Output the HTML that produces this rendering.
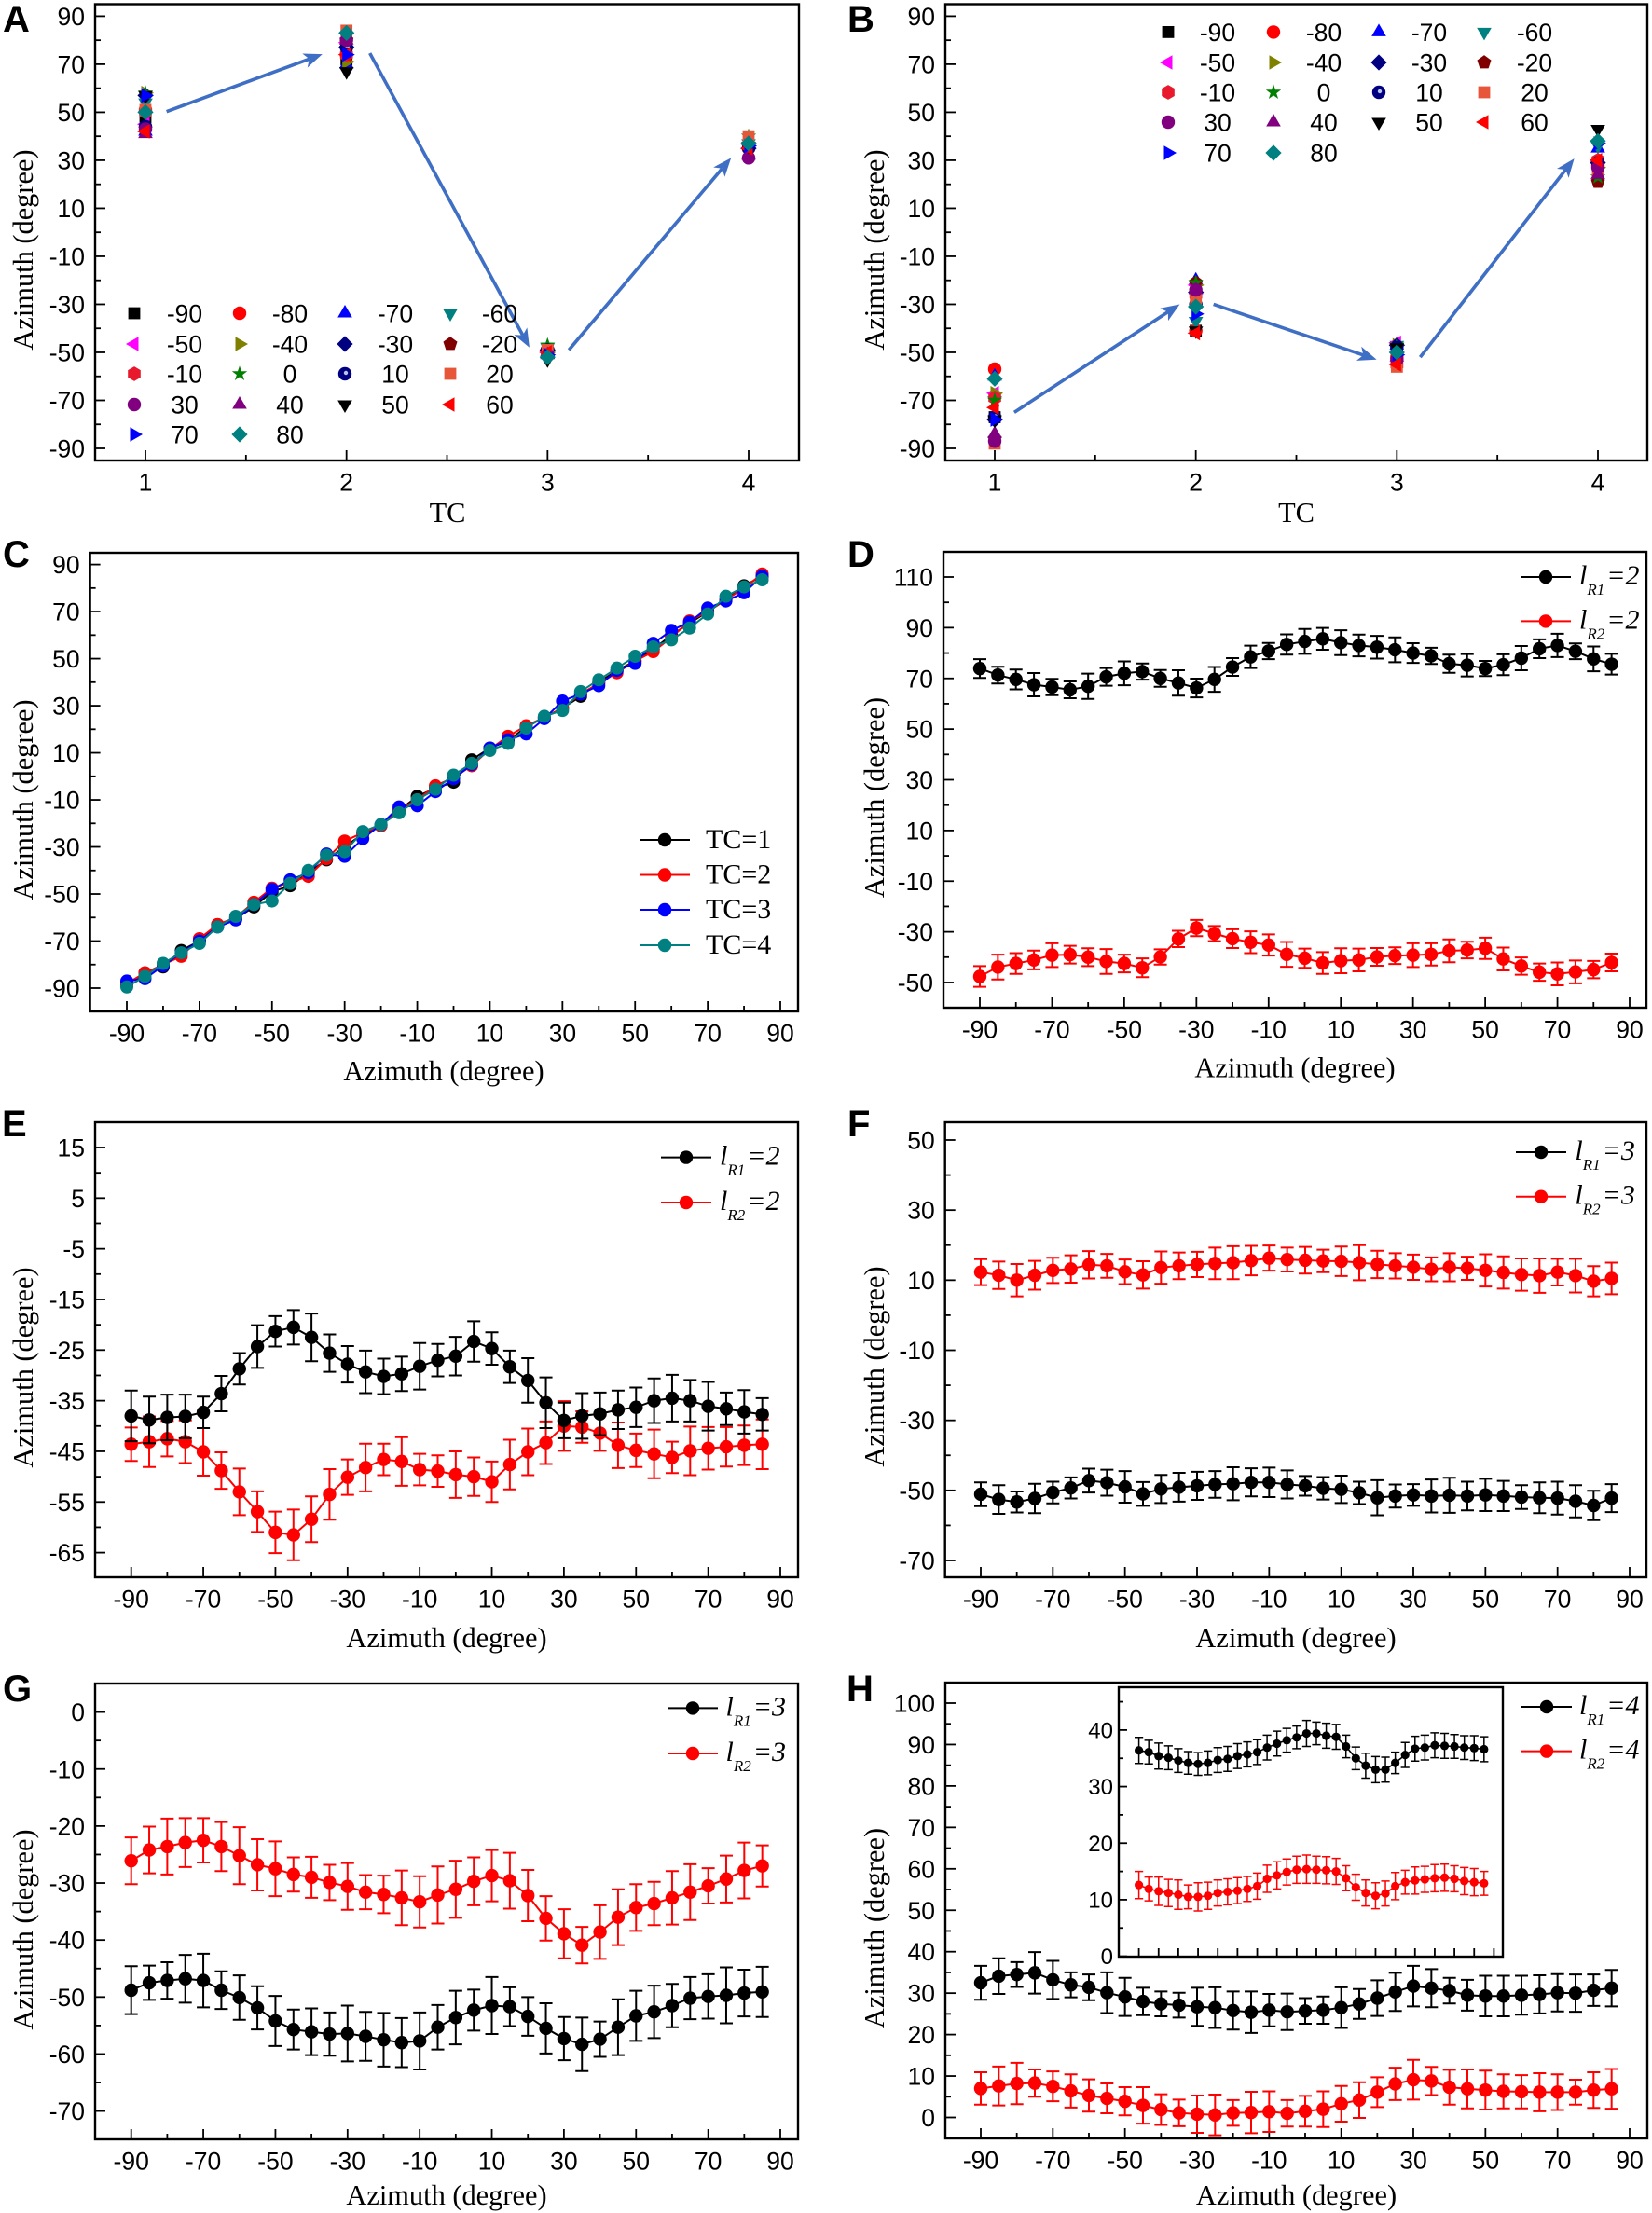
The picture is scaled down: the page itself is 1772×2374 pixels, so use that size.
<!DOCTYPE html>
<html lang="en">
<head>
<meta charset="utf-8">
<title>Azimuth measurement panels</title>
<style>
html,body{margin:0;padding:0;background:#fff;}
#figure{display:block;width:1772px;height:2374px;background:#fff;}
text{font-family:"Liberation Sans",Arial,sans-serif;fill:#000;}
.serif{font-family:"Liberation Serif","Times New Roman",serif;}
</style>
</head>
<body>
<svg id="figure" xmlns="http://www.w3.org/2000/svg" width="1772" height="2374" viewBox="0 0 1772 2374"></svg>
<script>
// ---------- shared categories and tick labels ----------
const azimuth = [-90,-85,-80,-75,-70,-65,-60,-55,-50,-45,-40,-35,-30,-25,-20,-15,-10,-5,0,5,10,15,20,25,30,35,40,45,50,55,60,65,70,75,80,85];
const azimuthMajorTicks = [-90,-70,-50,-30,-10,10,30,50,70,90];
const azimuthMinorTicks = [-80,-60,-40,-20,0,20,40,60,80];
const tcTicks = [1,2,3,4];
const tcMinorTicks = [1.5,2.5,3.5];
const ticksY90 = [90,70,50,30,10,-10,-30,-50,-70,-90];
const ticksY90Minor = [80,60,40,20,0,-20,-40,-60,-80];
const ticksYD = [110,90,70,50,30,10,-10,-30,-50];
const ticksYDMinor = [100,80,60,40,20,0,-20,-40];
const ticksYE = [15,5,-5,-15,-25,-35,-45,-55,-65];
const ticksYEMinor = [10,0,-10,-20,-30,-40,-50,-60];
const ticksYF = [50,30,10,-10,-30,-50,-70];
const ticksYFMinor = [40,20,0,-20,-40,-60];
const ticksYG = [0,-10,-20,-30,-40,-50,-60,-70];
const ticksYGMinor = [-5,-15,-25,-35,-45,-55,-65];
const ticksYH = [100,90,80,70,60,50,40,30,20,10,0];
const ticksYHMinor = [95,85,75,65,55,45,35,25,15,5];
const insetTicksY = [40,30,20,10,0];
const insetTicksYMinor = [45,35,25,15,5];
const insetTicksX = [-90,-80,-70,-60,-50,-40,-30,-20,-10,0,10,20,30,40,50,60,70,80,90];

// ---------- panels A and B: input azimuth series at each TC ----------
const inputLabels = [-90,-80,-70,-60,-50,-40,-30,-20,-10,0,10,20,30,40,50,60,70,80];
const inputShapes = ['square','circle','triUp','triDown','triLeft','triRight','diamond','pentagon','hexagon','star','sphere','square','circle','triUp','triDown','triLeft','triRight','diamond'];
const inputColors = ['#000000','#ff0000','#0000ff','#008080','#ff00ff','#808000','#000080','#800000','#e8192c','#008000','#000080','#e8563a','#800080','#800080','#000000','#ff0000','#0000ff','#008080'];

const panelA_TC1 = [48,51,42,54,45,58,57,43,50,58,44,51,43,41,57,42,57,50];
const panelA_TC2 = [72,74,70,76,79,71,77,80,74,82,77,84,80,80,67,74,74,83];
const panelA_TC3 = [-49,-50,-51,-48,-50,-50,-49,-49,-50,-47,-49,-49,-51,-51,-53,-50,-51,-52];
const panelA_TC4 = [36,35,38,37,35,37,35,36,36,40,35,40,31,32,36,35,36,37];

const panelB_TC1 = [-77,-57,-60,-70,-67,-67,-78,-86,-69,-70,-77,-88,-87,-84,-78,-73,-78,-61];
const panelB_TC2 = [-41,-41,-20,-37,-22,-22,-25,-21,-26,-21,-30,-28,-24,-24,-41,-42,-34,-31];
const panelB_TC3 = [-50,-52,-47,-47,-46,-47,-47,-48,-55,-47,-48,-56,-53,-52,-48,-55,-51,-50];
const panelB_TC4 = [29,28,35,36,30,27,29,21,30,23,29,25,27,24,43,30,37,38];

// ---------- panel C: output vs input azimuth ----------
const panelC_TC1 = [-88.5,-83.5,-81,-74,-70,-63,-60.5,-55.5,-49,-46.5,-41,-35.5,-30,-24.5,-21,-14.5,-8.5,-5,-2.5,7,12,15,21,25,29,34,40,45,49,54,60,65,70,75,81,85];
const panelC_TC2 = [-88,-83.5,-80,-76.5,-69,-63,-60,-53.5,-47.5,-45,-42.5,-35,-27.5,-24,-21,-14,-10,-4,-0.5,4.5,11.5,17,21.5,25,29,35,39.5,44,49,53,59,66,70,75,80,86];
const panelC_TC3 = [-87,-86,-80.5,-75,-70,-64,-61,-54.5,-48,-44,-41,-33,-34,-26.5,-20.5,-13,-12.5,-6.5,-1,5,12,15.5,18,24.5,32,35,38.5,45,48,56.5,62,65.5,71.5,74.5,78,85];
const panelC_TC4 = [-89.5,-85,-79.5,-75,-71,-64,-59.5,-54.5,-53,-45.5,-40,-33.5,-32,-23.5,-20.5,-15.5,-10,-5.5,0.5,5.5,11,14,20.5,25.5,28,36,41,46,51,55,58,63,69,76.5,80.5,83.5];

// ---------- panel D ----------
const panelD_R1 = [73.9,71.3,69.6,67.5,66.6,65.5,66.9,70.6,72,72.7,70,68.2,66.2,69.6,74.5,78.5,80.8,83.4,84.6,85.6,84.1,83,82.3,81.3,80,78.9,75.8,75.2,73.9,75.4,78,81.7,83,80.7,77.7,75.6];
const panelD_R1_err = [3.7,3.3,3.9,4.6,3.2,3.3,5,3.5,4.7,3.2,3.3,5,3.7,4.9,3.5,4.4,3.2,4,4.9,4.3,4.9,4.3,4.5,4.9,3.9,3.2,3.6,4.4,3,4.1,4.8,3.7,4.6,3.1,4.9,4.1];
const panelD_R2 = [-47.6,-43.9,-42.5,-41.1,-39.2,-39,-40,-41.7,-42.5,-44.2,-39.9,-32.8,-28.5,-30.7,-32.7,-34.1,-35.2,-38.9,-40.4,-42.3,-41.4,-41.1,-39.9,-39.4,-39.2,-38.9,-37.5,-37.2,-36.5,-40.7,-43.5,-45.9,-46.6,-45.8,-44.9,-42.1];
const panelD_R2_err = [4.1,4.9,4.1,3.7,4.7,3.5,3.5,4.9,3.5,3.7,3,3.2,3.2,3,3.7,4.3,4.2,4.9,3.8,4.3,4.9,4.5,3.5,3.3,4.7,4.4,4.5,3.3,4.2,4.5,3.4,3.4,4.5,4.5,3.4,3.5];

// ---------- panel E ----------
const panelE_R1 = [-38,-38.8,-38.3,-38.1,-37.3,-33.6,-28.7,-24.3,-21.3,-20.5,-22.5,-25.6,-27.8,-29.3,-30.2,-29.7,-28.2,-27,-26.2,-23.3,-24.7,-28.3,-31,-35.4,-38.9,-38,-37.6,-36.8,-36.3,-35,-34.5,-35,-36.1,-36.6,-37.2,-37.7];
const panelE_R1_err = [5,4.6,4.5,4.3,3.1,3.5,3.1,4.2,3,3.4,4.7,3.7,3.6,4.2,3.5,3.4,4.6,3.2,3.8,4,3.2,3.2,4.4,5,3.5,4.5,4.2,3.8,3.9,4.4,4.6,4.1,4.8,3.2,4.3,3.2];
const panelE_R2 = [-43.6,-43.1,-42.5,-43.1,-45.1,-48.8,-53,-56.9,-61,-61.5,-58.4,-53.5,-50.1,-48.2,-46.6,-47,-48.6,-48.9,-49.6,-50,-51,-47.6,-45.1,-43.3,-40,-40.2,-41.4,-43.8,-44.8,-45.5,-46.2,-44.9,-44.4,-44.1,-43.8,-43.6];
const panelE_R2_err = [3.3,5,3.5,4.2,4.7,3.6,4.6,4,4.1,5,4.5,5,3.5,4.7,3.1,4.8,3.1,3.1,4.6,3.8,4,4.9,4.6,4.2,4.9,3.1,3.5,4.5,3.3,4.8,3.1,4.8,4.2,3.9,3.9,4.9];

// ---------- panel F ----------
const panelF_R1 = [-51.1,-52.6,-53.3,-52.3,-50.6,-49.3,-47.2,-47.8,-49,-51,-49.6,-49.1,-48.7,-48.3,-48.1,-47.7,-47.7,-48.3,-48.7,-49.4,-49.7,-50.7,-52.1,-51.6,-51.3,-51.6,-51.4,-51.6,-51.3,-51.6,-51.9,-52.1,-52.2,-53.1,-54.3,-52.2];
const panelF_R1_err = [3.4,4.1,3,4.2,3.1,3,3.4,3.7,4.5,3.4,4,4.1,4,3.8,4.7,4,4.2,4,2.8,3.2,3.9,3.2,5,3.3,3.1,4.7,5,4.1,4.6,4.3,3.4,4.4,4.7,4.6,4.2,4];
const panelF_R2 = [12.3,11.4,10,11.4,12.8,13.2,14.4,14.1,12.4,11.5,13.6,14.1,14.5,14.8,15,15.6,16.3,15.9,15.7,15.5,15.4,15,14.5,14.1,13.7,13.1,13.7,13.4,12.8,12.2,11.6,11.3,12.3,11.3,9.7,10.5];
const panelF_R2_err = [3.7,3.9,4.6,4.1,3.6,3.9,3.9,3.4,3.5,3.9,4.6,3.8,3.6,4.5,4.7,4.2,3.6,3.4,3.8,3.2,4.2,5,3.9,3.6,3.6,3.4,4,3.3,4.6,4.6,4.6,4.9,3.8,4.8,4.3,4.5];

// ---------- panel G ----------
const panelG_R1 = [-48.8,-47.5,-47.1,-46.8,-47.1,-48.8,-50.1,-51.9,-54.2,-55.7,-56.1,-56.5,-56.4,-56.9,-57.5,-58,-57.7,-55.3,-53.6,-52.3,-51.5,-51.7,-53.4,-55.5,-57.3,-58.3,-57.4,-55.3,-53.3,-52.6,-51.5,-50.2,-49.9,-49.7,-49.3,-49.1];
const panelG_R1_err = [4.2,3,3.2,4.2,4.7,3.3,3.9,3.8,4.4,3.5,4.1,3.8,4.9,4.3,4.7,4.3,5,3.9,4.7,3.6,5,3.4,3.4,4.4,3.8,4.7,3.1,4.9,4.4,4.6,3.8,3.7,3.9,4.9,4.1,4.4];
const panelG_R2 = [-26.1,-24.2,-23.6,-22.9,-22.5,-23.6,-25.2,-26.8,-27.5,-28.5,-29,-29.9,-30.6,-31.6,-32,-32.6,-33.3,-32.1,-31.1,-29.7,-28.7,-29.6,-32.2,-36.2,-38.9,-40.9,-38.6,-36,-34.3,-33.6,-32.6,-31.6,-30.5,-29.3,-27.8,-27];
const panelG_R2_err = [4.1,4.1,4.9,4.3,3.9,4.3,5,4.5,4.8,3,3.6,3.1,4.1,3,3.3,4.8,4.5,5,5,4.2,4.5,4.9,4.5,3.9,4.3,3.2,4.7,4.9,4.1,3.8,4.7,4.9,3.1,4.1,4.9,3.6];

// ---------- panel H ----------
const panelH_R1 = [32.5,34.1,34.5,34.9,33.2,32,31.4,30.1,29.1,28,27.4,27.1,26.7,26.5,25.8,25.4,25.9,25.5,25.7,25.9,26.5,27.4,28.8,30.3,31.7,31.2,30.6,29.5,29.3,29.3,29.5,29.7,30.1,30,30.7,31.2];
const panelH_R1_err = [4.1,4.3,3,5,4.6,3,3.1,4.9,4.6,3.3,3,3,4.6,4.9,4.6,5,3.9,4.4,3.1,3.3,4.9,3.6,4.3,4.6,4.9,4.6,3.1,3.7,4.9,4.9,4.7,4.6,4.5,4.5,3.8,4.4];
const panelH_R2 = [7,7.6,8.2,8.3,7.5,6.4,5.3,4.6,3.9,2.9,1.9,1.1,0.8,0.6,1.1,1.2,1.4,1,1.5,2,3.3,4.2,6.1,8.1,9.1,8.8,7.3,6.9,6.6,6.3,6.2,6.1,6.1,6.1,6.6,6.9];
const panelH_R2_err = [3.9,4.7,5,3.3,3.6,4,3.9,3.6,3.4,4.4,3.7,3.2,4.5,4.9,3.1,5,4.9,3.2,3.7,4.3,4.3,4.3,3.6,3.9,4.8,3.4,4.2,4.7,4.7,4.1,4,4.6,4.3,3,4.3,4.8];

// ---------- panel H inset ----------
const insetH_R1 = [36.4,36.1,35.4,35.1,34.6,34.2,34,34.2,34.7,34.9,35.4,35.7,36.1,36.9,37.6,38.2,38.7,39.4,39.4,39,38.8,37.1,35,33.7,33,33,34.2,35.6,36.7,36.9,37.3,37.2,37.1,36.9,36.8,36.6];
const insetH_R1_err = [2.3,2.1,2.3,2.1,2.1,2,2,2.1,2.2,2.2,2.2,2.2,2.2,2.2,2.2,2.1,2,2.3,2,2.2,2.2,2,2,2.2,2.3,2.2,1.9,2.2,2.2,2.2,2.2,2.2,2.1,2.1,2.2,2.2];
const insetH_R2 = [12.6,11.9,11.5,11.2,10.9,10.5,10.5,10.7,11.2,11.4,11.6,11.9,12.4,13.7,14.3,14.9,15.3,15.4,15.3,15.2,15,13.8,12.2,11.2,10.7,11.1,12.4,13.1,13.4,13.6,13.8,13.9,13.7,13.3,13.1,12.9];
const insetH_R2_err = [2.4,2.1,2.5,2.4,2.6,2.1,2.5,2.4,2.3,2.3,2.3,2.2,2.3,2.4,2.4,2.3,2.4,2.5,2.4,2.4,2.3,2.2,2.3,2.3,2.3,2.2,2.4,2.1,2.4,2.3,2.4,2.4,2.3,2.4,2.4,2.1];

// ---------- helpers ----------
const NS = 'http://www.w3.org/2000/svg';
const root = document.getElementById('figure');
const BLUE = '#3f6fc4';

function make(tag, name, attrs, parent) {
  const el = document.createElementNS(NS, tag);
  
  
  for (const k in attrs) el.setAttribute(k, attrs[k]);
  parent.appendChild(el);
  return el;
}
function label(name, str, attrs, parent) {
  const t = make('text', name, attrs, parent);
  t.textContent = str;
  return t;
}
function linear(d0, d1, r0, r1) {
  return v => r0 + (v - d0) * (r1 - r0) / (d1 - d0);
}
function polyPoints(cx, cy, r, n, rot) {
  const out = [];
  for (let i = 0; i < n; i++) {
    const a = rot + i * 2 * Math.PI / n;
    out.push((cx + r * Math.cos(a)).toFixed(1) + ',' + (cy + r * Math.sin(a)).toFixed(1));
  }
  return out.join(' ');
}
function starPoints(cx, cy, R, r) {
  const out = [];
  for (let i = 0; i < 10; i++) {
    const a = -Math.PI / 2 + i * Math.PI / 5;
    const q = i % 2 ? r : R;
    out.push((cx + q * Math.cos(a)).toFixed(1) + ',' + (cy + q * Math.sin(a)).toFixed(1));
  }
  return out.join(' ');
}
function drawMarker(shape, color, cx, cy, name, parent) {
  const s = 7.2;
  if (shape === 'square') return make('rect', name, {x: cx - 6.4, y: cy - 6.4, width: 12.8, height: 12.8, fill: color}, parent);
  if (shape === 'circle') return make('circle', name, {cx: cx, cy: cy, r: s, fill: color}, parent);
  if (shape === 'sphere') {
    const g = make('g', name, {}, parent);
    make('circle', 'sphere-body', {cx: cx, cy: cy, r: s, fill: color}, g);
    make('circle', 'sphere-highlight', {cx: cx + 1, cy: cy - 1, r: 2.2, fill: '#b8c4e8'}, g);
    return g;
  }
  if (shape === 'star') return make('polygon', name, {points: starPoints(cx, cy, 8.6, 3.4), fill: color}, parent);
  if (shape === 'diamond') return make('polygon', name, {points: polyPoints(cx, cy, 8.6, 4, 0), fill: color}, parent);
  if (shape === 'pentagon') return make('polygon', name, {points: polyPoints(cx, cy, 7.9, 5, -Math.PI / 2), fill: color}, parent);
  if (shape === 'hexagon') return make('polygon', name, {points: polyPoints(cx, cy, 7.9, 6, -Math.PI / 2), fill: color}, parent);
  const rot = {triUp: -Math.PI / 2, triDown: Math.PI / 2, triLeft: Math.PI, triRight: 0}[shape];
  return make('polygon', name, {points: polyPoints(cx, cy, 9, 3, rot), fill: color}, parent);
}
function drawAxes(p, g) {
  const x = linear(p.x[0], p.x[1], p.x[2], p.x[3]);
  const y = linear(p.y[0], p.y[1], p.y[2], p.y[3]);
  const b = p.box;
  const major = p.major || 11, minor = p.minor || 6, fs = p.tickFont || 26.5;
  make('rect', 'plot-frame', {x: b[0], y: b[1], width: b[2] - b[0], height: b[3] - b[1], fill: p.inset ? '#fff' : 'none', stroke: '#000', 'stroke-width': 2.4}, g);
  const tick = (x1, y1, x2, y2, name) => make('line', name, {x1: x1, y1: y1, x2: x2, y2: y2, stroke: '#000', 'stroke-width': 1.8}, g);
  p.yMajor.forEach(v => {
    tick(b[0], y(v), b[0] + major, y(v), 'y-tick');
    label('y-tick-label', String(v), {x: b[0] - (p.inset ? 6 : 11), y: y(v) + fs * 0.36, 'text-anchor': 'end', 'font-size': fs}, g);
  });
  p.yMinor.forEach(v => tick(b[0], y(v), b[0] + minor, y(v), 'y-minor-tick'));
  p.xMajor.forEach(v => {
    tick(x(v), b[3], x(v), b[3] - major, 'x-tick');
    if (!p.inset) label('x-tick-label', String(v), {x: x(v), y: b[3] + 32.5, 'text-anchor': 'middle', 'font-size': fs}, g);
  });
  p.xMinor.forEach(v => tick(x(v), b[3], x(v), b[3] - minor, 'x-minor-tick'));
  if (p.xTitle) label('x-axis-title', p.xTitle[0], {x: p.xTitle[1], y: p.xTitle[2], 'text-anchor': 'middle', 'font-size': 30.4, class: 'serif'}, g);
  if (p.yTitle) label('y-axis-title', 'Azimuth (degree)', {x: 0, y: 0, transform: 'translate(' + p.yTitle[0] + ' ' + p.yTitle[1] + ') rotate(-90)', 'text-anchor': 'middle', 'font-size': 30.4, class: 'serif'}, g);
  return {x: x, y: y};
}
function drawSeries(scale, xs, ys, errs, color, name, g, o) {
  const s = make('g', name, {}, g);
  const r = o.r, cap = o.cap;
  const pts = xs.map((v, i) => scale.x(v).toFixed(1) + ',' + scale.y(ys[i]).toFixed(1)).join(' ');
  make('polyline', name + '-line', {points: pts, fill: 'none', stroke: color, 'stroke-width': o.lw}, s);
  xs.forEach((v, i) => {
    const px = scale.x(v), py = scale.y(ys[i]);
    if (errs) {
      const top = scale.y(ys[i] + errs[i]), bot = scale.y(ys[i] - errs[i]);
      const path = 'M' + px + ' ' + top + 'V' + bot + 'M' + (px - cap) + ' ' + top + 'H' + (px + cap) + 'M' + (px - cap) + ' ' + bot + 'H' + (px + cap);
      make('path', name + '-error-bar', {d: path, fill: 'none', stroke: color, 'stroke-width': o.ew}, s);
    }
    make('circle', name + '-point', {cx: px, cy: py, r: r, fill: color}, s);
  });
}
function drawArrow(scale, a, g) {
  const x1 = scale.x(a[0]), y1 = scale.y(a[1]), x2 = scale.x(a[2]), y2 = scale.y(a[3]);
  const len = Math.hypot(x2 - x1, y2 - y1), ux = (x2 - x1) / len, uy = (y2 - y1) / len;
  const nx = -uy, ny = ux, L = 20, W = 8, N = 15;
  make('line', 'trend-arrow-shaft', {x1: x1, y1: y1, x2: x2 - ux * N, y2: y2 - uy * N, stroke: BLUE, 'stroke-width': 3.6}, g);
  const pts = [[x2, y2], [x2 - ux * L + nx * W, y2 - uy * L + ny * W], [x2 - ux * N, y2 - uy * N], [x2 - ux * L - nx * W, y2 - uy * L - ny * W]];
  make('polygon', 'trend-arrow-head', {points: pts.map(q => q[0].toFixed(1) + ',' + q[1].toFixed(1)).join(' '), fill: BLUE}, g);
}
function panelLetter(str, x, y) {
  label('panel-label-' + str.toLowerCase(), str, {x: x, y: y, 'font-size': 40, 'font-weight': 'bold'}, root);
}
function beamLegend(g, o, ell, color, row, idx) {
  const e = make('g', 'legend-entry-r' + idx, {}, g);
  make('line', 'legend-line', {x1: o.x0, x2: o.x1, y1: row, y2: row, stroke: color, 'stroke-width': 2}, e);
  make('circle', 'legend-marker', {cx: (o.x0 + o.x1) / 2, cy: row, r: 7.2, fill: color}, e);
  const t = make('text', 'legend-label', {x: o.tx, y: row + 8, class: 'serif', 'font-size': 30, 'font-style': 'italic'}, e);
  const a = document.createElementNS(NS, 'tspan');
  a.textContent = 'l';
  t.appendChild(a);
  const b = document.createElementNS(NS, 'tspan');
  b.setAttribute('dy', '11');
  b.setAttribute('font-size', '17');
  b.textContent = 'R' + idx;
  t.appendChild(b);
  const c = document.createElementNS(NS, 'tspan');
  c.setAttribute('dy', '-11');
  c.setAttribute('dx', '2');
  c.textContent = '=' + ell;
  t.appendChild(c);
}

// ---------- panels A and B ----------
const arrowsA = [[1.105,50.3,1.88,74.2],[2.116,74.6,2.91,-48],[3.106,-49,3.913,31]];
const arrowsB = [[1.097,-75,1.92,-30],[2.088,-30,2.899,-53],[3.116,-52,3.882,30.7]];

function scatterPanel(id, p, cols, arrows, legendMarkerX, legendTextX, legendRows) {
  const g = make('g', 'panel-' + id, {}, root);
  const sc = drawAxes(p, g);
  inputLabels.forEach((lab, s) => {
    const sg = make('g', 'series-input-' + lab, {}, g);
    cols.forEach((col, i) => {
      drawMarker(inputShapes[s], inputColors[s], sc.x(tcTicks[i]), sc.y(col[s]), 'point-input-' + lab + '-tc' + tcTicks[i], sg);
    });
  });
  arrows.forEach(a => drawArrow(sc, a, g));
  const lg = make('g', 'legend', {}, g);
  inputLabels.forEach((lab, s) => {
    const row = Math.floor(s / 4), col = s % 4;
    const e = make('g', 'legend-entry-' + lab, {}, lg);
    drawMarker(inputShapes[s], inputColors[s], legendMarkerX[col], legendRows[row], 'legend-marker', e);
    label('legend-label', String(lab), {x: legendTextX[col], y: legendRows[row] + 9.5, 'text-anchor': 'middle', 'font-size': 26.5}, e);
  });
}
scatterPanel('a', {
  box: [102, 4.5, 857, 494], x: [1, 4, 156, 803], y: [-90, 90, 481, 17.4],
  xMajor: tcTicks, xMinor: tcMinorTicks, yMajor: ticksY90, yMinor: ticksY90Minor,
  xTitle: ['TC', 480, 560], yTitle: [35, 268]
}, [panelA_TC1, panelA_TC2, panelA_TC3, panelA_TC4], arrowsA, [144, 257, 370, 483], [198, 311, 424, 536], [336, 369, 401, 434, 466]);

scatterPanel('b', {
  box: [1014, 4.5, 1767, 494], x: [1, 4, 1067, 1714], y: [-90, 90, 481, 17.4],
  xMajor: tcTicks, xMinor: tcMinorTicks, yMajor: ticksY90, yMinor: ticksY90Minor,
  xTitle: ['TC', 1390.5, 560], yTitle: [948, 268]
}, [panelB_TC1, panelB_TC2, panelB_TC3, panelB_TC4], arrowsB, [1253, 1366, 1479, 1592], [1306, 1420, 1533, 1646], [34.4, 67, 99, 131, 164]);

// ---------- panel C ----------
(function () {
  const g = make('g', 'panel-c', {}, root);
  const sc = drawAxes({
    box: [96.6, 593, 856, 1085], x: [-90, 90, 136, 837], y: [-90, 90, 1060, 605.6],
    xMajor: azimuthMajorTicks, xMinor: azimuthMinorTicks, yMajor: ticksY90, yMinor: ticksY90Minor,
    xTitle: ['Azimuth (degree)', 476, 1159], yTitle: [35, 858]
  }, g);
  const all = [panelC_TC1, panelC_TC2, panelC_TC3, panelC_TC4];
  const colors = ['#000000', '#ff0000', '#0000ff', '#008080'];
  const rows = [901, 938.5, 976, 1014];
  all.forEach((ys, i) => {
    drawSeries(sc, azimuth, ys, null, colors[i], 'series-tc' + (i + 1), g, {r: 7, cap: 0, lw: 2, ew: 0});
  });
  all.forEach((ys, i) => {
    const e = make('g', 'legend-entry-tc' + (i + 1), {}, g);
    make('line', 'legend-line', {x1: 686, x2: 740, y1: rows[i], y2: rows[i], stroke: colors[i], 'stroke-width': 2}, e);
    make('circle', 'legend-marker', {cx: 713, cy: rows[i], r: 7.2, fill: colors[i]}, e);
    label('legend-label', 'TC=' + (i + 1), {x: 757, y: rows[i] + 9, class: 'serif', 'font-size': 30}, e);
  });
})();

// ---------- panels D to H ----------
function errPanel(id, p, ell, r1, r1e, r2, r2e, leg) {
  const g = make('g', 'panel-' + id, {}, root);
  p.xMajor = azimuthMajorTicks;
  p.xMinor = azimuthMinorTicks;
  const sc = drawAxes(p, g);
  const o = {r: 7.2, cap: 7, lw: 2, ew: 2};
  drawSeries(sc, azimuth, r2, r2e, '#ff0000', 'series-r2', g, o);
  drawSeries(sc, azimuth, r1, r1e, '#000000', 'series-r1', g, o);
  const lg = make('g', 'legend', {}, g);
  beamLegend(lg, leg, ell, '#000000', leg.rows[0], 1);
  beamLegend(lg, leg, ell, '#ff0000', leg.rows[1], 2);
}
errPanel('d', {
  box: [1012, 592, 1766, 1081], x: [-90, 90, 1051, 1748], y: [-50, 110, 1054, 619],
  yMajor: ticksYD, yMinor: ticksYDMinor, xTitle: ['Azimuth (degree)', 1389, 1155.5], yTitle: [948, 855.5]
}, 2, panelD_R1, panelD_R1_err, panelD_R2, panelD_R2_err, {x0: 1631, x1: 1685, tx: 1694, rows: [619, 666.4]});

errPanel('e', {
  box: [102, 1204, 856, 1692], x: [-90, 90, 140.7, 837], y: [-65, 15, 1665.6, 1231],
  yMajor: ticksYE, yMinor: ticksYEMinor, xTitle: ['Azimuth (degree)', 479, 1767], yTitle: [35, 1467]
}, 2, panelE_R1, panelE_R1_err, panelE_R2, panelE_R2_err, {x0: 709, x1: 763, tx: 772, rows: [1241.6, 1290]});

errPanel('f', {
  box: [1013.7, 1204, 1766, 1692], x: [-90, 90, 1052, 1748], y: [-70, 50, 1674, 1223],
  yMajor: ticksYF, yMinor: ticksYFMinor, xTitle: ['Azimuth (degree)', 1390, 1767], yTitle: [948, 1466]
}, 3, panelF_R1, panelF_R1_err, panelF_R2, panelF_R2_err, {x0: 1626, x1: 1680, tx: 1689.4, rows: [1236, 1283.7]});

errPanel('g', {
  box: [102, 1806, 856, 2295], x: [-90, 90, 140.7, 837], y: [-70, 0, 2264.6, 1836.6],
  yMajor: ticksYG, yMinor: ticksYGMinor, xTitle: ['Azimuth (degree)', 479, 2365], yTitle: [35, 2070]
}, 3, panelG_R1, panelG_R1_err, panelG_R2, panelG_R2_err, {x0: 716, x1: 770, tx: 778.5, rows: [1832.4, 1881]});

errPanel('h', {
  box: [1014, 1805, 1767, 2294], x: [-90, 90, 1052, 1748], y: [0, 100, 2271.5, 1827],
  yMajor: ticksYH, yMinor: ticksYHMinor, xTitle: ['Azimuth (degree)', 1390.5, 2365], yTitle: [948, 2068.5]
}, 4, panelH_R1, panelH_R1_err, panelH_R2, panelH_R2_err, {x0: 1632, x1: 1686, tx: 1694, rows: [1831, 1878.6]});

// ---------- panel H inset ----------
(function () {
  const g = make('g', 'panel-h-inset', {}, root);
  const sc = drawAxes({
    inset: true, box: [1200, 1810, 1612, 2099], x: [-90, 90, 1221.6, 1602.4], y: [0, 40, 2098.6, 1855.9],
    xMajor: insetTicksX, xMinor: [], yMajor: insetTicksY, yMinor: insetTicksYMinor, major: 9, minor: 5, tickFont: 24
  }, g);
  const o = {r: 4.6, cap: 4.6, lw: 1.6, ew: 1.5};
  drawSeries(sc, azimuth, insetH_R2, insetH_R2_err, '#ff0000', 'inset-series-r2', g, o);
  drawSeries(sc, azimuth, insetH_R1, insetH_R1_err, '#000000', 'inset-series-r1', g, o);
})();

// ---------- panel letters ----------
panelLetter('A', 3, 34);
panelLetter('B', 909, 34);
panelLetter('C', 3, 608);
panelLetter('D', 909, 608);
panelLetter('E', 2, 1219);
panelLetter('F', 909, 1219);
panelLetter('G', 3, 1825);
panelLetter('H', 908, 1825);
</script>
</body>
</html>
